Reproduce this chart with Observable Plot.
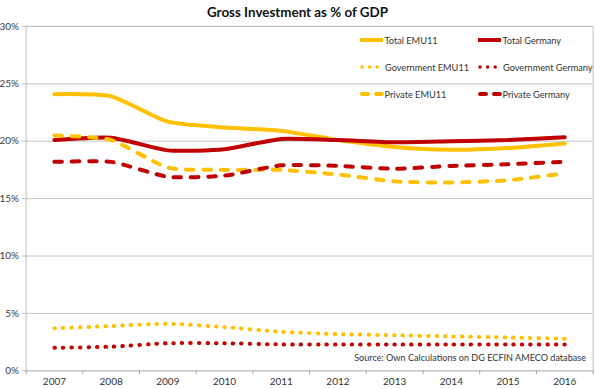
<!DOCTYPE html>
<html>
<head>
<meta charset="utf-8">
<script src="https://cdn.jsdelivr.net/npm/d3@7"></script>
<script src="https://cdn.jsdelivr.net/npm/@observablehq/plot@0.6"></script>
<style>
  body { margin: 0; background: #fff; font-family: Lato, "Open Sans", sans-serif; }
  #wrap { position: relative; width: 595px; height: 389px; overflow: hidden; background: #fff; }
  #title { position: absolute; left: 0; top: 0; width: 595px; text-align: center; font-weight: bold;
           font-size: 13.4px; line-height: 24px; color: #111; z-index: 2; }
  .leg { position: absolute; display: flex; align-items: center; font-size: 9.2px; color: #333;
         white-space: nowrap; z-index: 2; height: 12px; }
  .leg svg { flex: none; }
  #source { position: absolute; right: 9px; top: 351px; font-size: 9.1px; line-height: 14px; color: #333; z-index: 2; }
  #chart { position: absolute; left: 0; top: 0; }
</style>
</head>
<body>
<div id="wrap">
  <div id="title">Gross Investment as % of GDP</div>
  <div id="chart"></div>
  <div id="legend"></div>
  <div id="source">Source: Own Calculations on DG ECFIN AMECO database</div>
</div>
<script>
// ---- data ----
const years = [2007, 2008, 2009, 2010, 2011, 2012, 2013, 2014, 2015, 2016];
const totalEMU11      = [24.1, 23.9, 21.7, 21.2, 20.9, 20.1, 19.5, 19.25, 19.4, 19.8];
const totalGermany    = [20.1, 20.3, 19.2, 19.3, 20.2, 20.1, 19.9, 20.0, 20.1, 20.35];
const govEMU11        = [3.7, 3.9, 4.1, 3.8, 3.4, 3.2, 3.1, 3.0, 2.9, 2.8];
const govGermany      = [2.0, 2.1, 2.4, 2.4, 2.3, 2.3, 2.3, 2.3, 2.3, 2.3];
const privateEMU11    = [20.5, 20.1, 17.7, 17.5, 17.5, 17.1, 16.5, 16.4, 16.6, 17.2];
const privateGermany  = [18.2, 18.2, 16.9, 17.0, 17.9, 17.85, 17.6, 17.85, 18.0, 18.2];
const yTicks = [0, 5, 10, 15, 20, 25, 30];
const seriesNames = ["Total EMU11", "Total Germany", "Government EMU11", "Government Germany", "Private EMU11", "Private Germany"];

// ---- styles ----
const YELLOW = "#FFC000", RED = "#C00000";
const DOT = "0.5,8", DASH = "7.5,9.8";
const series = [
  {name: seriesNames[0], values: totalEMU11,     color: YELLOW, dash: null},
  {name: seriesNames[1], values: totalGermany,   color: RED,    dash: null},
  {name: seriesNames[2], values: govEMU11,       color: YELLOW, dash: DOT},
  {name: seriesNames[3], values: govGermany,     color: RED,    dash: DOT},
  {name: seriesNames[4], values: privateEMU11,   color: YELLOW, dash: DASH},
  {name: seriesNames[5], values: privateGermany, color: RED,    dash: DASH}
];
const table = series.flatMap(s => years.map((yr, i) => ({series: s.name, year: yr, value: s.values[i]})));
const boundaries = [...years.map(y => y - 0.5), years[years.length - 1] + 0.5];

const lineMarks = series.map(s => Plot.line(table.filter(d => d.series === s.name), {
  x: "year", y: "value", stroke: s.color, strokeWidth: 4,
  strokeDasharray: s.dash || undefined, strokeLinecap: "round", strokeLinejoin: "round",
  curve: "cardinal", tension: 0.4
}));

const chart = Plot.plot({
  width: 595, height: 389,
  marginTop: 25.9, marginBottom: 18.7, marginLeft: 25.6, marginRight: 2.4,
  style: {fontFamily: "Lato, 'Open Sans', sans-serif", fontSize: "10px", color: "#404040", background: "transparent", overflow: "visible"},
  x: {type: "linear", domain: [years[0] - 0.5, years[years.length - 1] + 0.5]},
  y: {domain: [0, 30]},
  marks: [
    Plot.gridY(yTicks, {stroke: "#c4c4c4", strokeOpacity: 1}),
    Plot.frame({stroke: "#bfbfbf"}),
    Plot.axisY(yTicks, {tickFormat: d => d + "%", tickSize: 4, tickPadding: 3, stroke: "#bfbfbf", fill: "#404040", label: null}),
    Plot.axisX(boundaries, {tickSize: 4, tickFormat: () => "", stroke: "#a6a6a6", label: null}),
    Plot.axisX(years, {tickSize: 0, tickPadding: 7, tickFormat: d => String(d), fill: "#333", label: null}),
    ...lineMarks
  ]
});
document.getElementById("chart").append(chart);

// ---- legend (HTML overlay) ----
const legPos = [
  {left: 359, top: 40}, {left: 477, top: 40},
  {left: 359, top: 67}, {left: 477, top: 67},
  {left: 359, top: 94}, {left: 477, top: 94}
];
const legend = document.getElementById("legend");
series.forEach((s, i) => {
  const p = legPos[i];
  const div = document.createElement("div");
  div.className = "leg";
  div.style.left = p.left + "px";
  div.style.top = (p.top - 6) + "px";
  let sw;
  if (!s.dash) sw = `<line x1="1" x2="24" y1="6" y2="6" stroke="${s.color}" stroke-width="4"/>`;
  else if (s.dash === DOT) sw = `<line x1="3" x2="19" y1="6" y2="6" stroke="${s.color}" stroke-width="3.5" stroke-linecap="round" stroke-dasharray="0,7.6"/>`;
  else sw = `<line x1="3" x2="24" y1="6" y2="6" stroke="${s.color}" stroke-width="4" stroke-linecap="round" stroke-dasharray="6,8"/>`;
  div.innerHTML = `<svg width="${s.dash === DOT ? 26 : 25}" height="12" style="overflow:hidden">${sw}</svg><span style="margin-left:${s.dash === DOT ? 0 : 0.5}px">${s.name}</span>`;
  legend.append(div);
});
</script>
</body>
</html>
